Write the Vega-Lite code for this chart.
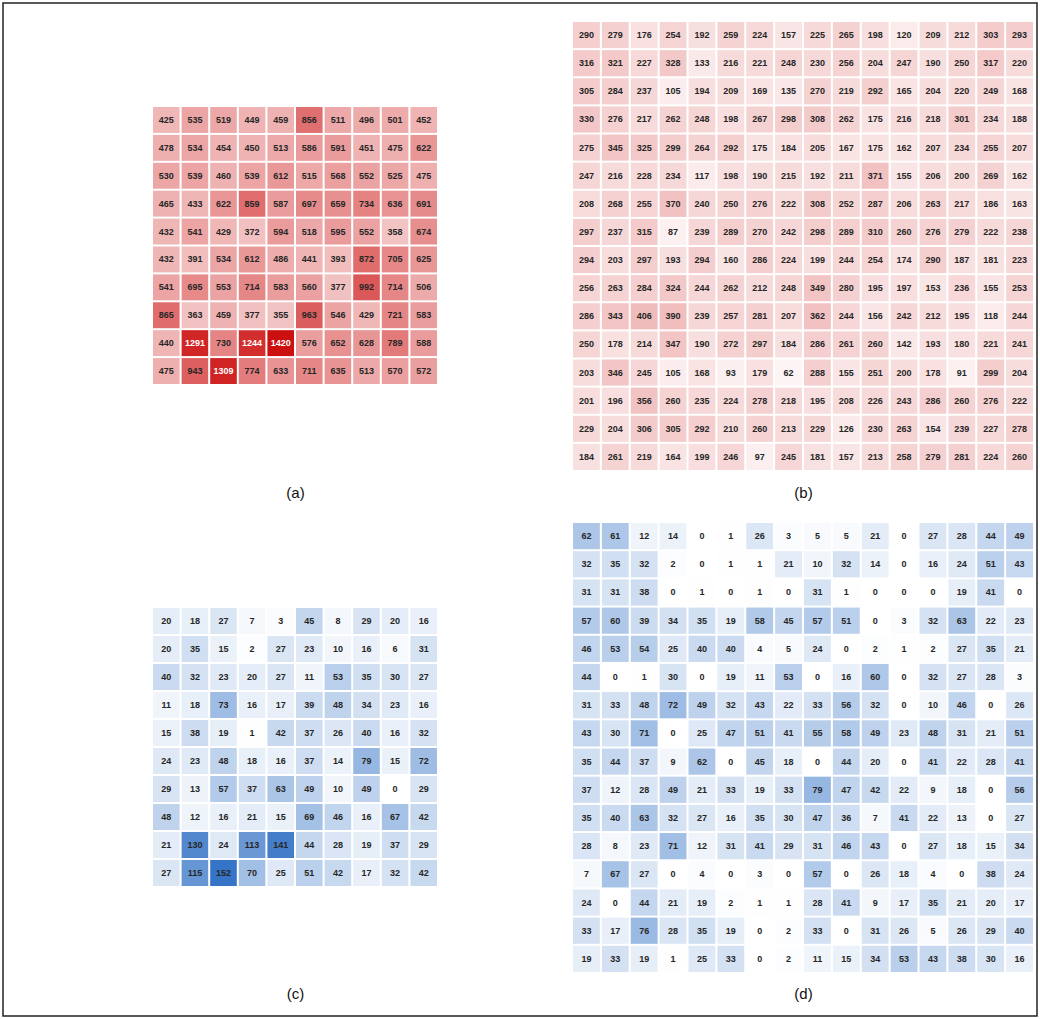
{
"$schema": "https://vega.github.io/schema/vega-lite/v6.json",
"width": 1034, "height": 1013,
"autosize": {"type": "none"},
"padding": 3,
"background": "white",
"config": {"view": {"stroke": "#222222", "strokeWidth": 1.5}, "text": {"font": "Liberation Sans"}, "axis": {"labels": false, "ticks": false, "domain": false, "grid": false, "titlePadding": 0, "titleFont": "Liberation Sans", "titleFontSize": 15, "titleFontWeight": "normal", "titleColor": "#111111", "titleBaseline": "middle"}},
"datasets": {
"a": [
{"row":0,"col":0,"value":425},{"row":0,"col":1,"value":535},{"row":0,"col":2,"value":519},{"row":0,"col":3,"value":449},{"row":0,"col":4,"value":459},{"row":0,"col":5,"value":856},{"row":0,"col":6,"value":511},{"row":0,"col":7,"value":496},{"row":0,"col":8,"value":501},{"row":0,"col":9,"value":452},
{"row":1,"col":0,"value":478},{"row":1,"col":1,"value":534},{"row":1,"col":2,"value":454},{"row":1,"col":3,"value":450},{"row":1,"col":4,"value":513},{"row":1,"col":5,"value":586},{"row":1,"col":6,"value":591},{"row":1,"col":7,"value":451},{"row":1,"col":8,"value":475},{"row":1,"col":9,"value":622},
{"row":2,"col":0,"value":530},{"row":2,"col":1,"value":539},{"row":2,"col":2,"value":460},{"row":2,"col":3,"value":539},{"row":2,"col":4,"value":612},{"row":2,"col":5,"value":515},{"row":2,"col":6,"value":568},{"row":2,"col":7,"value":552},{"row":2,"col":8,"value":525},{"row":2,"col":9,"value":475},
{"row":3,"col":0,"value":465},{"row":3,"col":1,"value":433},{"row":3,"col":2,"value":622},{"row":3,"col":3,"value":859},{"row":3,"col":4,"value":587},{"row":3,"col":5,"value":697},{"row":3,"col":6,"value":659},{"row":3,"col":7,"value":734},{"row":3,"col":8,"value":636},{"row":3,"col":9,"value":691},
{"row":4,"col":0,"value":432},{"row":4,"col":1,"value":541},{"row":4,"col":2,"value":429},{"row":4,"col":3,"value":372},{"row":4,"col":4,"value":594},{"row":4,"col":5,"value":518},{"row":4,"col":6,"value":595},{"row":4,"col":7,"value":552},{"row":4,"col":8,"value":358},{"row":4,"col":9,"value":674},
{"row":5,"col":0,"value":432},{"row":5,"col":1,"value":391},{"row":5,"col":2,"value":534},{"row":5,"col":3,"value":612},{"row":5,"col":4,"value":486},{"row":5,"col":5,"value":441},{"row":5,"col":6,"value":393},{"row":5,"col":7,"value":872},{"row":5,"col":8,"value":705},{"row":5,"col":9,"value":625},
{"row":6,"col":0,"value":541},{"row":6,"col":1,"value":695},{"row":6,"col":2,"value":553},{"row":6,"col":3,"value":714},{"row":6,"col":4,"value":583},{"row":6,"col":5,"value":560},{"row":6,"col":6,"value":377},{"row":6,"col":7,"value":992},{"row":6,"col":8,"value":714},{"row":6,"col":9,"value":506},
{"row":7,"col":0,"value":865},{"row":7,"col":1,"value":363},{"row":7,"col":2,"value":459},{"row":7,"col":3,"value":377},{"row":7,"col":4,"value":355},{"row":7,"col":5,"value":963},{"row":7,"col":6,"value":546},{"row":7,"col":7,"value":429},{"row":7,"col":8,"value":721},{"row":7,"col":9,"value":583},
{"row":8,"col":0,"value":440},{"row":8,"col":1,"value":1291},{"row":8,"col":2,"value":730},{"row":8,"col":3,"value":1244},{"row":8,"col":4,"value":1420},{"row":8,"col":5,"value":576},{"row":8,"col":6,"value":652},{"row":8,"col":7,"value":628},{"row":8,"col":8,"value":789},{"row":8,"col":9,"value":588},
{"row":9,"col":0,"value":475},{"row":9,"col":1,"value":943},{"row":9,"col":2,"value":1309},{"row":9,"col":3,"value":774},{"row":9,"col":4,"value":633},{"row":9,"col":5,"value":711},{"row":9,"col":6,"value":635},{"row":9,"col":7,"value":513},{"row":9,"col":8,"value":570},{"row":9,"col":9,"value":572}
],
"b": [
{"row":0,"col":0,"value":290},{"row":0,"col":1,"value":279},{"row":0,"col":2,"value":176},{"row":0,"col":3,"value":254},{"row":0,"col":4,"value":192},{"row":0,"col":5,"value":259},{"row":0,"col":6,"value":224},{"row":0,"col":7,"value":157},{"row":0,"col":8,"value":225},{"row":0,"col":9,"value":265},{"row":0,"col":10,"value":198},{"row":0,"col":11,"value":120},{"row":0,"col":12,"value":209},{"row":0,"col":13,"value":212},{"row":0,"col":14,"value":303},{"row":0,"col":15,"value":293},
{"row":1,"col":0,"value":316},{"row":1,"col":1,"value":321},{"row":1,"col":2,"value":227},{"row":1,"col":3,"value":328},{"row":1,"col":4,"value":133},{"row":1,"col":5,"value":216},{"row":1,"col":6,"value":221},{"row":1,"col":7,"value":248},{"row":1,"col":8,"value":230},{"row":1,"col":9,"value":256},{"row":1,"col":10,"value":204},{"row":1,"col":11,"value":247},{"row":1,"col":12,"value":190},{"row":1,"col":13,"value":250},{"row":1,"col":14,"value":317},{"row":1,"col":15,"value":220},
{"row":2,"col":0,"value":305},{"row":2,"col":1,"value":284},{"row":2,"col":2,"value":237},{"row":2,"col":3,"value":105},{"row":2,"col":4,"value":194},{"row":2,"col":5,"value":209},{"row":2,"col":6,"value":169},{"row":2,"col":7,"value":135},{"row":2,"col":8,"value":270},{"row":2,"col":9,"value":219},{"row":2,"col":10,"value":292},{"row":2,"col":11,"value":165},{"row":2,"col":12,"value":204},{"row":2,"col":13,"value":220},{"row":2,"col":14,"value":249},{"row":2,"col":15,"value":168},
{"row":3,"col":0,"value":330},{"row":3,"col":1,"value":276},{"row":3,"col":2,"value":217},{"row":3,"col":3,"value":262},{"row":3,"col":4,"value":248},{"row":3,"col":5,"value":198},{"row":3,"col":6,"value":267},{"row":3,"col":7,"value":298},{"row":3,"col":8,"value":308},{"row":3,"col":9,"value":262},{"row":3,"col":10,"value":175},{"row":3,"col":11,"value":216},{"row":3,"col":12,"value":218},{"row":3,"col":13,"value":301},{"row":3,"col":14,"value":234},{"row":3,"col":15,"value":188},
{"row":4,"col":0,"value":275},{"row":4,"col":1,"value":345},{"row":4,"col":2,"value":325},{"row":4,"col":3,"value":299},{"row":4,"col":4,"value":264},{"row":4,"col":5,"value":292},{"row":4,"col":6,"value":175},{"row":4,"col":7,"value":184},{"row":4,"col":8,"value":205},{"row":4,"col":9,"value":167},{"row":4,"col":10,"value":175},{"row":4,"col":11,"value":162},{"row":4,"col":12,"value":207},{"row":4,"col":13,"value":234},{"row":4,"col":14,"value":255},{"row":4,"col":15,"value":207},
{"row":5,"col":0,"value":247},{"row":5,"col":1,"value":216},{"row":5,"col":2,"value":228},{"row":5,"col":3,"value":234},{"row":5,"col":4,"value":117},{"row":5,"col":5,"value":198},{"row":5,"col":6,"value":190},{"row":5,"col":7,"value":215},{"row":5,"col":8,"value":192},{"row":5,"col":9,"value":211},{"row":5,"col":10,"value":371},{"row":5,"col":11,"value":155},{"row":5,"col":12,"value":206},{"row":5,"col":13,"value":200},{"row":5,"col":14,"value":269},{"row":5,"col":15,"value":162},
{"row":6,"col":0,"value":208},{"row":6,"col":1,"value":268},{"row":6,"col":2,"value":255},{"row":6,"col":3,"value":370},{"row":6,"col":4,"value":240},{"row":6,"col":5,"value":250},{"row":6,"col":6,"value":276},{"row":6,"col":7,"value":222},{"row":6,"col":8,"value":308},{"row":6,"col":9,"value":252},{"row":6,"col":10,"value":287},{"row":6,"col":11,"value":206},{"row":6,"col":12,"value":263},{"row":6,"col":13,"value":217},{"row":6,"col":14,"value":186},{"row":6,"col":15,"value":163},
{"row":7,"col":0,"value":297},{"row":7,"col":1,"value":237},{"row":7,"col":2,"value":315},{"row":7,"col":3,"value":87},{"row":7,"col":4,"value":239},{"row":7,"col":5,"value":289},{"row":7,"col":6,"value":270},{"row":7,"col":7,"value":242},{"row":7,"col":8,"value":298},{"row":7,"col":9,"value":289},{"row":7,"col":10,"value":310},{"row":7,"col":11,"value":260},{"row":7,"col":12,"value":276},{"row":7,"col":13,"value":279},{"row":7,"col":14,"value":222},{"row":7,"col":15,"value":238},
{"row":8,"col":0,"value":294},{"row":8,"col":1,"value":203},{"row":8,"col":2,"value":297},{"row":8,"col":3,"value":193},{"row":8,"col":4,"value":294},{"row":8,"col":5,"value":160},{"row":8,"col":6,"value":286},{"row":8,"col":7,"value":224},{"row":8,"col":8,"value":199},{"row":8,"col":9,"value":244},{"row":8,"col":10,"value":254},{"row":8,"col":11,"value":174},{"row":8,"col":12,"value":290},{"row":8,"col":13,"value":187},{"row":8,"col":14,"value":181},{"row":8,"col":15,"value":223},
{"row":9,"col":0,"value":256},{"row":9,"col":1,"value":263},{"row":9,"col":2,"value":284},{"row":9,"col":3,"value":324},{"row":9,"col":4,"value":244},{"row":9,"col":5,"value":262},{"row":9,"col":6,"value":212},{"row":9,"col":7,"value":248},{"row":9,"col":8,"value":349},{"row":9,"col":9,"value":280},{"row":9,"col":10,"value":195},{"row":9,"col":11,"value":197},{"row":9,"col":12,"value":153},{"row":9,"col":13,"value":236},{"row":9,"col":14,"value":155},{"row":9,"col":15,"value":253},
{"row":10,"col":0,"value":286},{"row":10,"col":1,"value":343},{"row":10,"col":2,"value":406},{"row":10,"col":3,"value":390},{"row":10,"col":4,"value":239},{"row":10,"col":5,"value":257},{"row":10,"col":6,"value":281},{"row":10,"col":7,"value":207},{"row":10,"col":8,"value":362},{"row":10,"col":9,"value":244},{"row":10,"col":10,"value":156},{"row":10,"col":11,"value":242},{"row":10,"col":12,"value":212},{"row":10,"col":13,"value":195},{"row":10,"col":14,"value":118},{"row":10,"col":15,"value":244},
{"row":11,"col":0,"value":250},{"row":11,"col":1,"value":178},{"row":11,"col":2,"value":214},{"row":11,"col":3,"value":347},{"row":11,"col":4,"value":190},{"row":11,"col":5,"value":272},{"row":11,"col":6,"value":297},{"row":11,"col":7,"value":184},{"row":11,"col":8,"value":286},{"row":11,"col":9,"value":261},{"row":11,"col":10,"value":260},{"row":11,"col":11,"value":142},{"row":11,"col":12,"value":193},{"row":11,"col":13,"value":180},{"row":11,"col":14,"value":221},{"row":11,"col":15,"value":241},
{"row":12,"col":0,"value":203},{"row":12,"col":1,"value":346},{"row":12,"col":2,"value":245},{"row":12,"col":3,"value":105},{"row":12,"col":4,"value":168},{"row":12,"col":5,"value":93},{"row":12,"col":6,"value":179},{"row":12,"col":7,"value":62},{"row":12,"col":8,"value":288},{"row":12,"col":9,"value":155},{"row":12,"col":10,"value":251},{"row":12,"col":11,"value":200},{"row":12,"col":12,"value":178},{"row":12,"col":13,"value":91},{"row":12,"col":14,"value":299},{"row":12,"col":15,"value":204},
{"row":13,"col":0,"value":201},{"row":13,"col":1,"value":196},{"row":13,"col":2,"value":356},{"row":13,"col":3,"value":260},{"row":13,"col":4,"value":235},{"row":13,"col":5,"value":224},{"row":13,"col":6,"value":278},{"row":13,"col":7,"value":218},{"row":13,"col":8,"value":195},{"row":13,"col":9,"value":208},{"row":13,"col":10,"value":226},{"row":13,"col":11,"value":243},{"row":13,"col":12,"value":286},{"row":13,"col":13,"value":260},{"row":13,"col":14,"value":276},{"row":13,"col":15,"value":222},
{"row":14,"col":0,"value":229},{"row":14,"col":1,"value":204},{"row":14,"col":2,"value":306},{"row":14,"col":3,"value":305},{"row":14,"col":4,"value":292},{"row":14,"col":5,"value":210},{"row":14,"col":6,"value":260},{"row":14,"col":7,"value":213},{"row":14,"col":8,"value":229},{"row":14,"col":9,"value":126},{"row":14,"col":10,"value":230},{"row":14,"col":11,"value":263},{"row":14,"col":12,"value":154},{"row":14,"col":13,"value":239},{"row":14,"col":14,"value":227},{"row":14,"col":15,"value":278},
{"row":15,"col":0,"value":184},{"row":15,"col":1,"value":261},{"row":15,"col":2,"value":219},{"row":15,"col":3,"value":164},{"row":15,"col":4,"value":199},{"row":15,"col":5,"value":246},{"row":15,"col":6,"value":97},{"row":15,"col":7,"value":245},{"row":15,"col":8,"value":181},{"row":15,"col":9,"value":157},{"row":15,"col":10,"value":213},{"row":15,"col":11,"value":258},{"row":15,"col":12,"value":279},{"row":15,"col":13,"value":281},{"row":15,"col":14,"value":224},{"row":15,"col":15,"value":260}
],
"c": [
{"row":0,"col":0,"value":20},{"row":0,"col":1,"value":18},{"row":0,"col":2,"value":27},{"row":0,"col":3,"value":7},{"row":0,"col":4,"value":3},{"row":0,"col":5,"value":45},{"row":0,"col":6,"value":8},{"row":0,"col":7,"value":29},{"row":0,"col":8,"value":20},{"row":0,"col":9,"value":16},
{"row":1,"col":0,"value":20},{"row":1,"col":1,"value":35},{"row":1,"col":2,"value":15},{"row":1,"col":3,"value":2},{"row":1,"col":4,"value":27},{"row":1,"col":5,"value":23},{"row":1,"col":6,"value":10},{"row":1,"col":7,"value":16},{"row":1,"col":8,"value":6},{"row":1,"col":9,"value":31},
{"row":2,"col":0,"value":40},{"row":2,"col":1,"value":32},{"row":2,"col":2,"value":23},{"row":2,"col":3,"value":20},{"row":2,"col":4,"value":27},{"row":2,"col":5,"value":11},{"row":2,"col":6,"value":53},{"row":2,"col":7,"value":35},{"row":2,"col":8,"value":30},{"row":2,"col":9,"value":27},
{"row":3,"col":0,"value":11},{"row":3,"col":1,"value":18},{"row":3,"col":2,"value":73},{"row":3,"col":3,"value":16},{"row":3,"col":4,"value":17},{"row":3,"col":5,"value":39},{"row":3,"col":6,"value":48},{"row":3,"col":7,"value":34},{"row":3,"col":8,"value":23},{"row":3,"col":9,"value":16},
{"row":4,"col":0,"value":15},{"row":4,"col":1,"value":38},{"row":4,"col":2,"value":19},{"row":4,"col":3,"value":1},{"row":4,"col":4,"value":42},{"row":4,"col":5,"value":37},{"row":4,"col":6,"value":26},{"row":4,"col":7,"value":40},{"row":4,"col":8,"value":16},{"row":4,"col":9,"value":32},
{"row":5,"col":0,"value":24},{"row":5,"col":1,"value":23},{"row":5,"col":2,"value":48},{"row":5,"col":3,"value":18},{"row":5,"col":4,"value":16},{"row":5,"col":5,"value":37},{"row":5,"col":6,"value":14},{"row":5,"col":7,"value":79},{"row":5,"col":8,"value":15},{"row":5,"col":9,"value":72},
{"row":6,"col":0,"value":29},{"row":6,"col":1,"value":13},{"row":6,"col":2,"value":57},{"row":6,"col":3,"value":37},{"row":6,"col":4,"value":63},{"row":6,"col":5,"value":49},{"row":6,"col":6,"value":10},{"row":6,"col":7,"value":49},{"row":6,"col":8,"value":0},{"row":6,"col":9,"value":29},
{"row":7,"col":0,"value":48},{"row":7,"col":1,"value":12},{"row":7,"col":2,"value":16},{"row":7,"col":3,"value":21},{"row":7,"col":4,"value":15},{"row":7,"col":5,"value":69},{"row":7,"col":6,"value":46},{"row":7,"col":7,"value":16},{"row":7,"col":8,"value":67},{"row":7,"col":9,"value":42},
{"row":8,"col":0,"value":21},{"row":8,"col":1,"value":130},{"row":8,"col":2,"value":24},{"row":8,"col":3,"value":113},{"row":8,"col":4,"value":141},{"row":8,"col":5,"value":44},{"row":8,"col":6,"value":28},{"row":8,"col":7,"value":19},{"row":8,"col":8,"value":37},{"row":8,"col":9,"value":29},
{"row":9,"col":0,"value":27},{"row":9,"col":1,"value":115},{"row":9,"col":2,"value":152},{"row":9,"col":3,"value":70},{"row":9,"col":4,"value":25},{"row":9,"col":5,"value":51},{"row":9,"col":6,"value":42},{"row":9,"col":7,"value":17},{"row":9,"col":8,"value":32},{"row":9,"col":9,"value":42}
],
"d": [
{"row":0,"col":0,"value":62},{"row":0,"col":1,"value":61},{"row":0,"col":2,"value":12},{"row":0,"col":3,"value":14},{"row":0,"col":4,"value":0},{"row":0,"col":5,"value":1},{"row":0,"col":6,"value":26},{"row":0,"col":7,"value":3},{"row":0,"col":8,"value":5},{"row":0,"col":9,"value":5},{"row":0,"col":10,"value":21},{"row":0,"col":11,"value":0},{"row":0,"col":12,"value":27},{"row":0,"col":13,"value":28},{"row":0,"col":14,"value":44},{"row":0,"col":15,"value":49},
{"row":1,"col":0,"value":32},{"row":1,"col":1,"value":35},{"row":1,"col":2,"value":32},{"row":1,"col":3,"value":2},{"row":1,"col":4,"value":0},{"row":1,"col":5,"value":1},{"row":1,"col":6,"value":1},{"row":1,"col":7,"value":21},{"row":1,"col":8,"value":10},{"row":1,"col":9,"value":32},{"row":1,"col":10,"value":14},{"row":1,"col":11,"value":0},{"row":1,"col":12,"value":16},{"row":1,"col":13,"value":24},{"row":1,"col":14,"value":51},{"row":1,"col":15,"value":43},
{"row":2,"col":0,"value":31},{"row":2,"col":1,"value":31},{"row":2,"col":2,"value":38},{"row":2,"col":3,"value":0},{"row":2,"col":4,"value":1},{"row":2,"col":5,"value":0},{"row":2,"col":6,"value":1},{"row":2,"col":7,"value":0},{"row":2,"col":8,"value":31},{"row":2,"col":9,"value":1},{"row":2,"col":10,"value":0},{"row":2,"col":11,"value":0},{"row":2,"col":12,"value":0},{"row":2,"col":13,"value":19},{"row":2,"col":14,"value":41},{"row":2,"col":15,"value":0},
{"row":3,"col":0,"value":57},{"row":3,"col":1,"value":60},{"row":3,"col":2,"value":39},{"row":3,"col":3,"value":34},{"row":3,"col":4,"value":35},{"row":3,"col":5,"value":19},{"row":3,"col":6,"value":58},{"row":3,"col":7,"value":45},{"row":3,"col":8,"value":57},{"row":3,"col":9,"value":51},{"row":3,"col":10,"value":0},{"row":3,"col":11,"value":3},{"row":3,"col":12,"value":32},{"row":3,"col":13,"value":63},{"row":3,"col":14,"value":22},{"row":3,"col":15,"value":23},
{"row":4,"col":0,"value":46},{"row":4,"col":1,"value":53},{"row":4,"col":2,"value":54},{"row":4,"col":3,"value":25},{"row":4,"col":4,"value":40},{"row":4,"col":5,"value":40},{"row":4,"col":6,"value":4},{"row":4,"col":7,"value":5},{"row":4,"col":8,"value":24},{"row":4,"col":9,"value":0},{"row":4,"col":10,"value":2},{"row":4,"col":11,"value":1},{"row":4,"col":12,"value":2},{"row":4,"col":13,"value":27},{"row":4,"col":14,"value":35},{"row":4,"col":15,"value":21},
{"row":5,"col":0,"value":44},{"row":5,"col":1,"value":0},{"row":5,"col":2,"value":1},{"row":5,"col":3,"value":30},{"row":5,"col":4,"value":0},{"row":5,"col":5,"value":19},{"row":5,"col":6,"value":11},{"row":5,"col":7,"value":53},{"row":5,"col":8,"value":0},{"row":5,"col":9,"value":16},{"row":5,"col":10,"value":60},{"row":5,"col":11,"value":0},{"row":5,"col":12,"value":32},{"row":5,"col":13,"value":27},{"row":5,"col":14,"value":28},{"row":5,"col":15,"value":3},
{"row":6,"col":0,"value":31},{"row":6,"col":1,"value":33},{"row":6,"col":2,"value":48},{"row":6,"col":3,"value":72},{"row":6,"col":4,"value":49},{"row":6,"col":5,"value":32},{"row":6,"col":6,"value":43},{"row":6,"col":7,"value":22},{"row":6,"col":8,"value":33},{"row":6,"col":9,"value":56},{"row":6,"col":10,"value":32},{"row":6,"col":11,"value":0},{"row":6,"col":12,"value":10},{"row":6,"col":13,"value":46},{"row":6,"col":14,"value":0},{"row":6,"col":15,"value":26},
{"row":7,"col":0,"value":43},{"row":7,"col":1,"value":30},{"row":7,"col":2,"value":71},{"row":7,"col":3,"value":0},{"row":7,"col":4,"value":25},{"row":7,"col":5,"value":47},{"row":7,"col":6,"value":51},{"row":7,"col":7,"value":41},{"row":7,"col":8,"value":55},{"row":7,"col":9,"value":58},{"row":7,"col":10,"value":49},{"row":7,"col":11,"value":23},{"row":7,"col":12,"value":48},{"row":7,"col":13,"value":31},{"row":7,"col":14,"value":21},{"row":7,"col":15,"value":51},
{"row":8,"col":0,"value":35},{"row":8,"col":1,"value":44},{"row":8,"col":2,"value":37},{"row":8,"col":3,"value":9},{"row":8,"col":4,"value":62},{"row":8,"col":5,"value":0},{"row":8,"col":6,"value":45},{"row":8,"col":7,"value":18},{"row":8,"col":8,"value":0},{"row":8,"col":9,"value":44},{"row":8,"col":10,"value":20},{"row":8,"col":11,"value":0},{"row":8,"col":12,"value":41},{"row":8,"col":13,"value":22},{"row":8,"col":14,"value":28},{"row":8,"col":15,"value":41},
{"row":9,"col":0,"value":37},{"row":9,"col":1,"value":12},{"row":9,"col":2,"value":28},{"row":9,"col":3,"value":49},{"row":9,"col":4,"value":21},{"row":9,"col":5,"value":33},{"row":9,"col":6,"value":19},{"row":9,"col":7,"value":33},{"row":9,"col":8,"value":79},{"row":9,"col":9,"value":47},{"row":9,"col":10,"value":42},{"row":9,"col":11,"value":22},{"row":9,"col":12,"value":9},{"row":9,"col":13,"value":18},{"row":9,"col":14,"value":0},{"row":9,"col":15,"value":56},
{"row":10,"col":0,"value":35},{"row":10,"col":1,"value":40},{"row":10,"col":2,"value":63},{"row":10,"col":3,"value":32},{"row":10,"col":4,"value":27},{"row":10,"col":5,"value":16},{"row":10,"col":6,"value":35},{"row":10,"col":7,"value":30},{"row":10,"col":8,"value":47},{"row":10,"col":9,"value":36},{"row":10,"col":10,"value":7},{"row":10,"col":11,"value":41},{"row":10,"col":12,"value":22},{"row":10,"col":13,"value":13},{"row":10,"col":14,"value":0},{"row":10,"col":15,"value":27},
{"row":11,"col":0,"value":28},{"row":11,"col":1,"value":8},{"row":11,"col":2,"value":23},{"row":11,"col":3,"value":71},{"row":11,"col":4,"value":12},{"row":11,"col":5,"value":31},{"row":11,"col":6,"value":41},{"row":11,"col":7,"value":29},{"row":11,"col":8,"value":31},{"row":11,"col":9,"value":46},{"row":11,"col":10,"value":43},{"row":11,"col":11,"value":0},{"row":11,"col":12,"value":27},{"row":11,"col":13,"value":18},{"row":11,"col":14,"value":15},{"row":11,"col":15,"value":34},
{"row":12,"col":0,"value":7},{"row":12,"col":1,"value":67},{"row":12,"col":2,"value":27},{"row":12,"col":3,"value":0},{"row":12,"col":4,"value":4},{"row":12,"col":5,"value":0},{"row":12,"col":6,"value":3},{"row":12,"col":7,"value":0},{"row":12,"col":8,"value":57},{"row":12,"col":9,"value":0},{"row":12,"col":10,"value":26},{"row":12,"col":11,"value":18},{"row":12,"col":12,"value":4},{"row":12,"col":13,"value":0},{"row":12,"col":14,"value":38},{"row":12,"col":15,"value":24},
{"row":13,"col":0,"value":24},{"row":13,"col":1,"value":0},{"row":13,"col":2,"value":44},{"row":13,"col":3,"value":21},{"row":13,"col":4,"value":19},{"row":13,"col":5,"value":2},{"row":13,"col":6,"value":1},{"row":13,"col":7,"value":1},{"row":13,"col":8,"value":28},{"row":13,"col":9,"value":41},{"row":13,"col":10,"value":9},{"row":13,"col":11,"value":17},{"row":13,"col":12,"value":35},{"row":13,"col":13,"value":21},{"row":13,"col":14,"value":20},{"row":13,"col":15,"value":17},
{"row":14,"col":0,"value":33},{"row":14,"col":1,"value":17},{"row":14,"col":2,"value":76},{"row":14,"col":3,"value":28},{"row":14,"col":4,"value":35},{"row":14,"col":5,"value":19},{"row":14,"col":6,"value":0},{"row":14,"col":7,"value":2},{"row":14,"col":8,"value":33},{"row":14,"col":9,"value":0},{"row":14,"col":10,"value":31},{"row":14,"col":11,"value":26},{"row":14,"col":12,"value":5},{"row":14,"col":13,"value":26},{"row":14,"col":14,"value":29},{"row":14,"col":15,"value":40},
{"row":15,"col":0,"value":19},{"row":15,"col":1,"value":33},{"row":15,"col":2,"value":19},{"row":15,"col":3,"value":1},{"row":15,"col":4,"value":25},{"row":15,"col":5,"value":33},{"row":15,"col":6,"value":0},{"row":15,"col":7,"value":2},{"row":15,"col":8,"value":11},{"row":15,"col":9,"value":15},{"row":15,"col":10,"value":34},{"row":15,"col":11,"value":53},{"row":15,"col":12,"value":43},{"row":15,"col":13,"value":38},{"row":15,"col":14,"value":30},{"row":15,"col":15,"value":16}
]
},
"layer": [
{
"data": {"name": "a"},
"encoding": {
"x": {"field": "col", "type": "ordinal", "scale": {"range": [150, 434], "paddingInner": 0.07, "paddingOuter": 0}, "axis": {"title": "(a)", "orient": "bottom", "titleY": -524}},
"y": {"field": "row", "type": "ordinal", "scale": {"range": [104, 381], "paddingInner": 0.07, "paddingOuter": 0}, "axis": null}
},
"layer": [
{"mark": {"type": "rect"}, "encoding": {"color": {"field": "value", "type": "quantitative", "scale": {"domain": [0, 1420], "range": ["#ffffff", "#cc1010"], "interpolate": "rgb"}, "legend": null}}},
{"mark": {"type": "text", "fontSize": 9, "fontWeight": "bold", "baseline": "middle"}, "encoding": {"text": {"field": "value", "type": "quantitative"}, "color": {"condition": {"test": "datum.value > 1100", "value": "#ffffff"}, "value": "#262626"}}}
]
},
{
"data": {"name": "b"},
"encoding": {
"x": {"field": "col", "type": "ordinal", "scale": {"range": [570, 1030], "paddingInner": 0.07, "paddingOuter": 0}, "axis": {"title": "(b)", "orient": "bottom", "titleY": -524}},
"y": {"field": "row", "type": "ordinal", "scale": {"range": [19, 467], "paddingInner": 0.07, "paddingOuter": 0}, "axis": null}
},
"layer": [
{"mark": {"type": "rect"}, "encoding": {"color": {"field": "value", "type": "quantitative", "scale": {"domain": [0, 1420], "range": ["#ffffff", "#cc1010"], "interpolate": "rgb"}, "legend": null}}},
{"mark": {"type": "text", "fontSize": 9, "fontWeight": "bold", "baseline": "middle", "color": "#262626"}, "encoding": {"text": {"field": "value", "type": "quantitative"}}}
]
},
{
"data": {"name": "c"},
"encoding": {
"x": {"field": "col", "type": "ordinal", "scale": {"range": [150, 434], "paddingInner": 0.07, "paddingOuter": 0}, "axis": {"title": "(c)", "orient": "bottom", "titleY": -23}},
"y": {"field": "row", "type": "ordinal", "scale": {"range": [605, 883], "paddingInner": 0.07, "paddingOuter": 0}, "axis": null}
},
"layer": [
{"mark": {"type": "rect"}, "encoding": {"color": {"field": "value", "type": "quantitative", "scale": {"domain": [0, 152], "range": ["#ffffff", "#3574c6"], "interpolate": "rgb"}, "legend": null}}},
{"mark": {"type": "text", "fontSize": 9, "fontWeight": "bold", "baseline": "middle", "color": "#262626"}, "encoding": {"text": {"field": "value", "type": "quantitative"}}}
]
},
{
"data": {"name": "d"},
"encoding": {
"x": {"field": "col", "type": "ordinal", "scale": {"range": [570, 1030], "paddingInner": 0.07, "paddingOuter": 0}, "axis": {"title": "(d)", "orient": "bottom", "titleY": -23}},
"y": {"field": "row", "type": "ordinal", "scale": {"range": [520, 969], "paddingInner": 0.07, "paddingOuter": 0}, "axis": null}
},
"layer": [
{"mark": {"type": "rect"}, "encoding": {"color": {"field": "value", "type": "quantitative", "scale": {"domain": [0, 152], "range": ["#ffffff", "#3574c6"], "interpolate": "rgb"}, "legend": null}}},
{"mark": {"type": "text", "fontSize": 9, "fontWeight": "bold", "baseline": "middle", "color": "#262626"}, "encoding": {"text": {"field": "value", "type": "quantitative"}}}
]
}
],
"resolve": {"scale": {"x": "independent", "y": "independent", "color": "independent"}, "axis": {"x": "independent", "y": "independent"}}
}
